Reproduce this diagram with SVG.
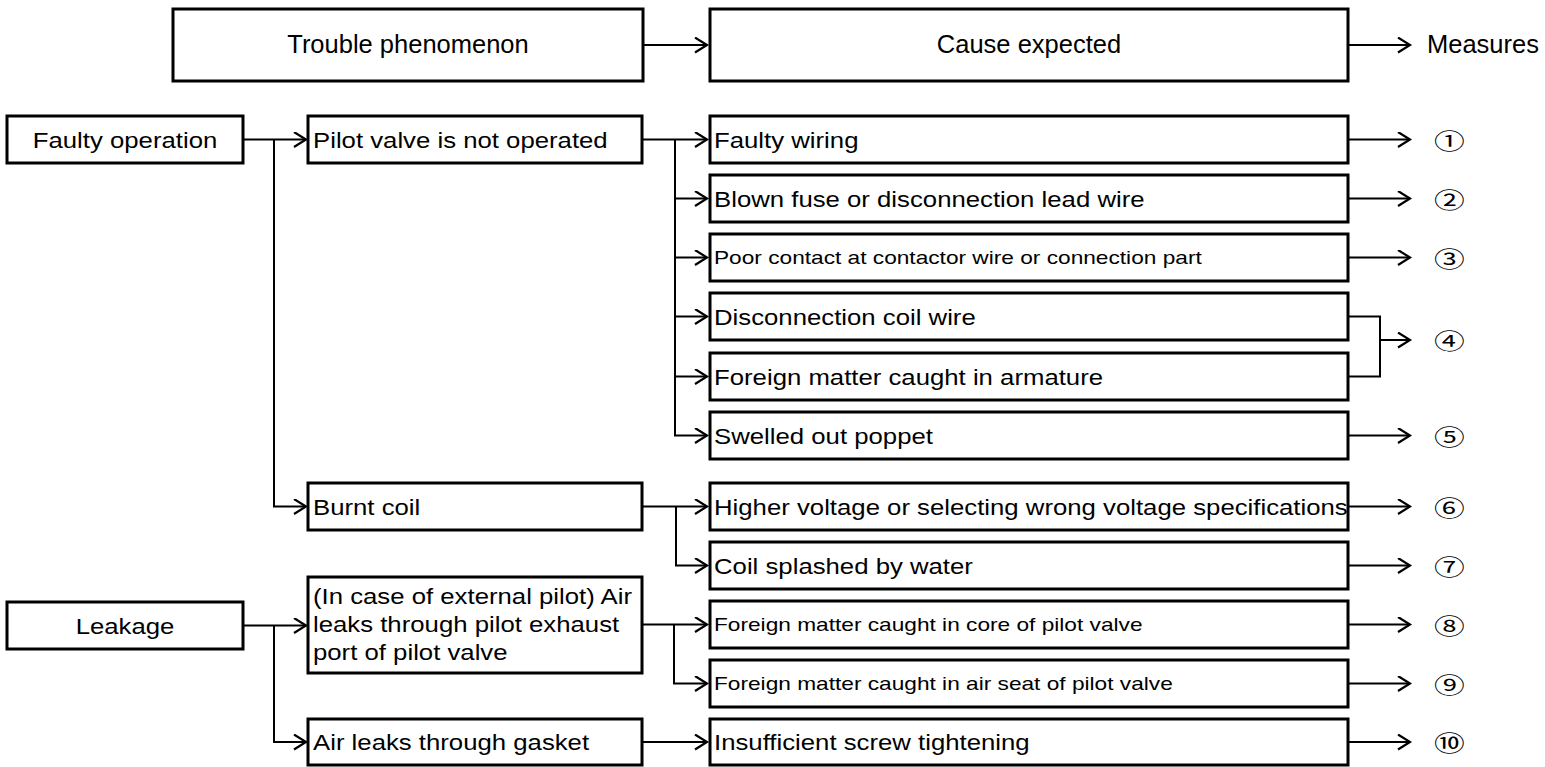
<svg xmlns="http://www.w3.org/2000/svg" width="1545" height="767" viewBox="0 0 1545 767">
<style>
.box{fill:#fff;stroke:#000;stroke-width:3}
.ln{fill:none;stroke:#000;stroke-width:2}
.h{font-family:"Liberation Sans",Arial,sans-serif;font-size:25.5px;fill:#000}
.t{font-family:"Liberation Sans",Arial,sans-serif;font-size:22px;fill:#000}
.s{font-family:"Liberation Sans",Arial,sans-serif;font-size:18px;fill:#000}
.c{text-anchor:middle}
.n{font-family:"Noto Sans CJK JP","DejaVu Sans",sans-serif;font-size:22px;fill:#000;text-anchor:middle;dominant-baseline:central}
</style>
<defs>
<marker id="ah" markerWidth="16" markerHeight="18" refX="13" refY="8" orient="auto" markerUnits="userSpaceOnUse">
<path d="M1,0.5 L13,8 L1,15.5" fill="none" stroke="#000" stroke-width="2.2"/>
</marker>
</defs>
<rect width="1545" height="767" fill="#fff"/>

<g id="connectors">
<path class="ln" d="M643,45 H707" marker-end="url(#ah)"/>
<path class="ln" d="M1348,45 H1410" marker-end="url(#ah)"/>
<path class="ln" d="M243,139.5 H306" marker-end="url(#ah)"/>
<path class="ln" d="M274,139.5 V506.5 H306" marker-end="url(#ah)"/>
<path class="ln" d="M243,625.5 H306" marker-end="url(#ah)"/>
<path class="ln" d="M274,625.5 V742 H306" marker-end="url(#ah)"/>
<path class="ln" d="M642,139.5 H707" marker-end="url(#ah)"/>
<path class="ln" d="M675,198.5 H707" marker-end="url(#ah)"/>
<path class="ln" d="M675,257.5 H707" marker-end="url(#ah)"/>
<path class="ln" d="M675,316.5 H707" marker-end="url(#ah)"/>
<path class="ln" d="M675,376.5 H707" marker-end="url(#ah)"/>
<path class="ln" d="M675,139.5 V435.5 H707" marker-end="url(#ah)"/>
<path class="ln" d="M642,506.5 H707" marker-end="url(#ah)"/>
<path class="ln" d="M676,506.5 V565.5 H707" marker-end="url(#ah)"/>
<path class="ln" d="M642,624.5 H707" marker-end="url(#ah)"/>
<path class="ln" d="M674,624.5 V683.5 H707" marker-end="url(#ah)"/>
<path class="ln" d="M642,742 H707" marker-end="url(#ah)"/>
<path class="ln" d="M1348,139.5 H1410" marker-end="url(#ah)"/>
<path class="ln" d="M1348,198.5 H1410" marker-end="url(#ah)"/>
<path class="ln" d="M1348,257.5 H1410" marker-end="url(#ah)"/>
<path class="ln" d="M1348,316.5 H1380 V376.5 H1348"/>
<path class="ln" d="M1380,340 H1410" marker-end="url(#ah)"/>
<path class="ln" d="M1348,435.5 H1410" marker-end="url(#ah)"/>
<path class="ln" d="M1348,506.5 H1410" marker-end="url(#ah)"/>
<path class="ln" d="M1348,565.5 H1410" marker-end="url(#ah)"/>
<path class="ln" d="M1348,624.5 H1410" marker-end="url(#ah)"/>
<path class="ln" d="M1348,683.5 H1410" marker-end="url(#ah)"/>
<path class="ln" d="M1348,742 H1410" marker-end="url(#ah)"/>
</g>

<g id="hdr-trouble"><rect class="box" x="173" y="9" width="470" height="72"/><text class="h c" x="408" y="53">Trouble phenomenon</text></g>
<g id="hdr-cause"><rect class="box" x="710" y="9" width="638" height="72"/><text class="h c" x="1029" y="53">Cause expected</text></g>
<g id="hdr-measures"><text class="h" x="1427" y="53">Measures</text></g>

<g id="faulty-operation"><rect class="box" x="7" y="116" width="236" height="47"/><text class="t c" transform="translate(125,147.5) scale(1.17,1)">Faulty operation</text></g>
<g id="leakage"><rect class="box" x="7" y="602" width="236" height="47"/><text class="t c" transform="translate(125,633.5) scale(1.17,1)">Leakage</text></g>

<g id="pilot-not-operated"><rect class="box" x="308" y="116" width="334" height="47"/><text class="t" transform="translate(313,147.5) scale(1.17,1)">Pilot valve is not operated</text></g>
<g id="burnt-coil"><rect class="box" x="308" y="483" width="334" height="47"/><text class="t" transform="translate(313,514.5) scale(1.17,1)">Burnt coil</text></g>
<g id="external-pilot-leak"><rect class="box" x="308" y="577" width="334" height="96"/>
<text class="t" transform="translate(313,604) scale(1.17,1)">(In case of external pilot) Air</text>
<text class="t" transform="translate(313,632) scale(1.17,1)">leaks through pilot exhaust</text>
<text class="t" transform="translate(313,660) scale(1.17,1)">port of pilot valve</text></g>
<g id="gasket-leak"><rect class="box" x="308" y="719" width="334" height="46"/><text class="t" transform="translate(313,750) scale(1.17,1)">Air leaks through gasket</text></g>

<g id="cause-1"><rect class="box" x="710" y="116" width="638" height="47"/><text class="t" transform="translate(714,147.5) scale(1.17,1)">Faulty wiring</text></g>
<g id="cause-2"><rect class="box" x="710" y="175" width="638" height="47"/><text class="t" transform="translate(714,206.5) scale(1.17,1)">Blown fuse or disconnection lead wire</text></g>
<g id="cause-3"><rect class="box" x="710" y="234" width="638" height="47"/><text class="s" transform="translate(714,264) scale(1.26,1)">Poor contact at contactor wire or connection part</text></g>
<g id="cause-4a"><rect class="box" x="710" y="293" width="638" height="47"/><text class="t" transform="translate(714,324.5) scale(1.17,1)">Disconnection coil wire</text></g>
<g id="cause-4b"><rect class="box" x="710" y="353" width="638" height="47"/><text class="t" transform="translate(714,384.5) scale(1.17,1)">Foreign matter caught in armature</text></g>
<g id="cause-5"><rect class="box" x="710" y="412" width="638" height="47"/><text class="t" transform="translate(714,443.5) scale(1.17,1)">Swelled out poppet</text></g>
<g id="cause-6"><rect class="box" x="710" y="483" width="638" height="47"/><text class="t" transform="translate(714,514.5) scale(1.17,1)">Higher voltage or selecting wrong voltage specifications</text></g>
<g id="cause-7"><rect class="box" x="710" y="542" width="638" height="47"/><text class="t" transform="translate(714,573.5) scale(1.17,1)">Coil splashed by water</text></g>
<g id="cause-8"><rect class="box" x="710" y="601" width="638" height="47"/><text class="s" transform="translate(714,631) scale(1.26,1)">Foreign matter caught in core of pilot valve</text></g>
<g id="cause-9"><rect class="box" x="710" y="660" width="638" height="47"/><text class="s" transform="translate(714,690) scale(1.26,1)">Foreign matter caught in air seat of pilot valve</text></g>
<g id="cause-10"><rect class="box" x="710" y="719" width="638" height="46"/><text class="t" transform="translate(714,750) scale(1.17,1)">Insufficient screw tightening</text></g>

<g id="measures">
<text class="n" transform="translate(1449.5,139.5) scale(1.4,1)">①</text>
<text class="n" transform="translate(1449.5,198.5) scale(1.4,1)">②</text>
<text class="n" transform="translate(1449.5,257.5) scale(1.4,1)">③</text>
<text class="n" transform="translate(1449.5,340) scale(1.4,1)">④</text>
<text class="n" transform="translate(1449.5,435.5) scale(1.4,1)">⑤</text>
<text class="n" transform="translate(1449.5,506.5) scale(1.4,1)">⑥</text>
<text class="n" transform="translate(1449.5,565.5) scale(1.4,1)">⑦</text>
<text class="n" transform="translate(1449.5,624.5) scale(1.4,1)">⑧</text>
<text class="n" transform="translate(1449.5,683.5) scale(1.4,1)">⑨</text>
<text class="n" transform="translate(1449.5,742) scale(1.4,1)">⑩</text>
</g>
</svg>
